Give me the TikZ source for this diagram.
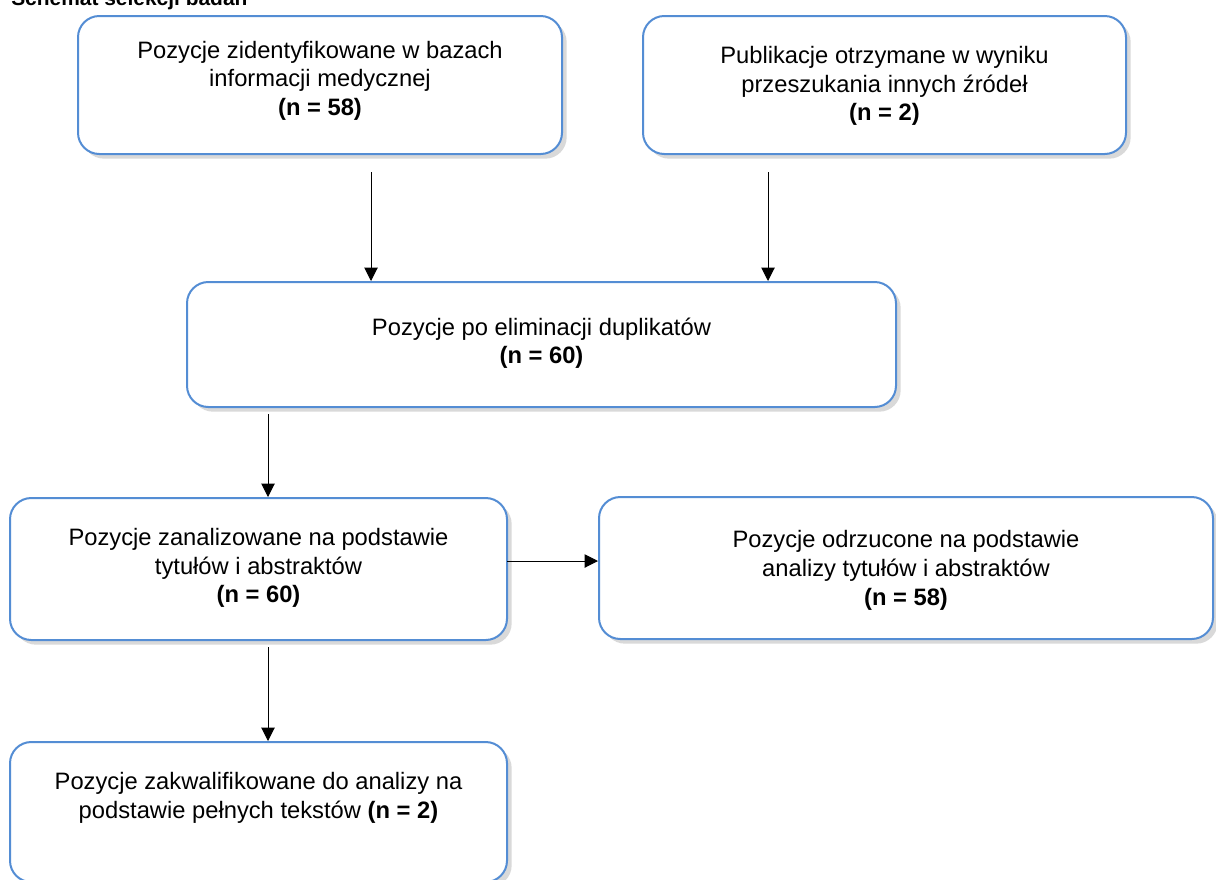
\documentclass[tikz,border=0pt]{standalone}
\usepackage{fontspec}
\setmainfont{Liberation Sans}
\usetikzlibrary{arrows.meta,shadows}

\definecolor{boxblue}{RGB}{84,141,212}
\definecolor{shadowgray}{RGB}{217,217,217}

\tikzset{
  flowbox/.style={draw=boxblue, line width=1.5pt, rounded corners=16pt, fill=white, inner sep=0pt,
    font=\fontsize{17.8}{21.4}\selectfont,
    drop shadow={shadow xshift=3.5pt, shadow yshift=-3.5pt, fill=shadowgray, opacity=1}},
  flowarrow/.style={-{Triangle[length=10pt,width=10pt]}, line width=0.75pt},
}

% width, height, top gap, text
\newcommand{\boxtext}[4]{\begin{minipage}[c][#2][t]{#1}\centering\vspace*{#3}#4\end{minipage}}

\begin{document}
\begin{tikzpicture}[x=0.75pt,y=0.75pt,yscale=-1,xscale=1]
\useasboundingbox (0,0) rectangle (1216,879);
\clip (0,0) rectangle (1216,879);

% Title
\node [anchor=base west, inner sep=0pt, font=\bfseries\fontsize{15.7}{18}\selectfont] (title) at (11,5) {Schemat selekcji badań};

% Boxes
\node [flowbox] (ident) at (320,85) {\boxtext{363pt}{103.5pt}{18.6pt}{Pozycje zidentyfikowane w bazach\\ informacji medycznej\\ \textbf{(n = 58)}}};
\node [flowbox] (other) at (884.5,85) {\boxtext{362.25pt}{103.5pt}{23pt}{Publikacje otrzymane w wyniku\\ przeszukania innych źródeł\\ \textbf{(n = 2)}}};
\node [flowbox] (dupl) at (541.5,344.5) {\boxtext{531.75pt}{93.75pt}{26.8pt}{Pozycje po eliminacji duplikatów\\ \textbf{(n = 60)}}};
\node [flowbox] (screen) at (258.5,569) {\boxtext{372.75pt}{106.5pt}{23pt}{Pozycje zanalizowane na podstawie\\ tytułów i abstraktów\\ \textbf{(n = 60)}}};
\node [flowbox] (excl) at (906,568) {\boxtext{460.5pt}{106.5pt}{25.3pt}{Pozycje odrzucone na podstawie\\ analizy tytułów i abstraktów\\ \textbf{(n = 58)}}};
\node [flowbox] (incl) at (258.5,812) {\boxtext{372.75pt}{105pt}{23pt}{Pozycje zakwalifikowane do analizy na\\ podstawie pełnych tekstów \textbf{(n = 2)}}};

% Arrows
\coordinate (a1) at (371,172);
\coordinate (a2) at (768,172);
\coordinate (a3) at (268,414);
\coordinate (a4) at (507,561);
\coordinate (a5) at (268,647);
\draw [flowarrow] (a1) -- (a1 |- dupl.north);
\draw [flowarrow] (a2) -- (a2 |- dupl.north);
\draw [flowarrow] (a3) -- (a3 |- screen.north);
\draw [flowarrow] (a4) -- (a4 -| excl.west);
\draw [flowarrow] (a5) -- (a5 |- incl.north);

\end{tikzpicture}
\end{document}
